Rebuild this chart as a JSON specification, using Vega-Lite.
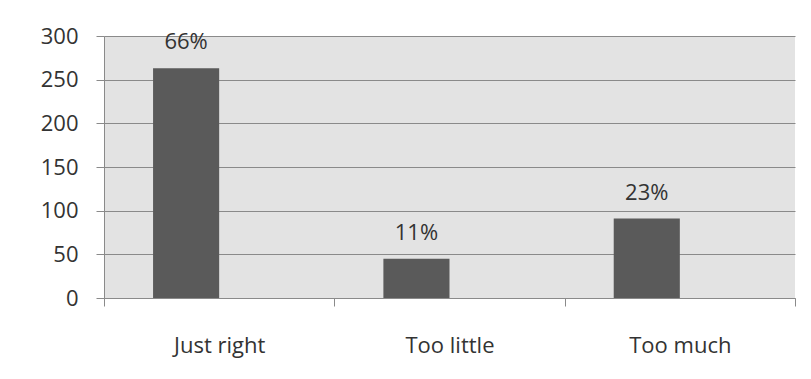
{
  "$schema": "https://vega.github.io/schema/vega-lite/v6.json",
  "width": 691,
  "height": 262,
  "autosize": {"type": "none"},
  "padding": {"left": 104, "top": 36, "right": 16, "bottom": 81},
  "background": "#ffffff",
  "data": {
    "values": [
      {"answer": "Just right", "series": "Responses", "count": 263, "share": 0.66},
      {"answer": "Too little", "series": "Responses", "count": 45, "share": 0.11},
      {"answer": "Too much", "series": "Responses", "count": 91, "share": 0.23}
    ]
  },
  "encoding": {
    "x": {
      "field": "answer",
      "type": "nominal",
      "sort": ["Just right", "Too little", "Too much"],
      "scale": {"paddingInner": 0, "paddingOuter": 0},
      "axis": {
        "title": null,
        "labelAngle": 0,
        "tickBand": "extent",
        "tickSize": 8,
        "labelBaseline": "alphabetic",
        "labelPadding": 46,
        "labelFont": "Open Sans",
        "labelFontSize": 22,
        "labelColor": "#333333",
        "domainColor": "#8a8a8a",
        "tickColor": "#8a8a8a"
      }
    },
    "xOffset": {
      "field": "series",
      "type": "nominal",
      "scale": {"domain": ["Responses", "Other"], "paddingInner": 0, "paddingOuter": 0.742}
    }
  },
  "layer": [
    {
      "mark": {"type": "bar", "color": "#5a5a5a"},
      "encoding": {
        "y": {
          "field": "count",
          "type": "quantitative",
          "scale": {"domain": [0, 300]},
          "axis": {
            "title": null,
            "values": [0, 50, 100, 150, 200, 250, 300],
            "tickSize": 8,
            "labelPadding": 18,
            "labelFont": "Open Sans",
            "labelFontSize": 22,
            "labelColor": "#333333",
            "grid": true,
            "gridColor": "#8a8a8a",
            "domainColor": "#8a8a8a",
            "tickColor": "#8a8a8a"
          }
        }
      }
    },
    {
      "mark": {
        "type": "text",
        "baseline": "alphabetic",
        "dy": -19,
        "font": "Open Sans",
        "fontSize": 22,
        "color": "#333333"
      },
      "encoding": {
        "y": {"field": "count", "type": "quantitative"},
        "text": {"field": "share", "type": "quantitative", "format": ".0%"}
      }
    }
  ],
  "config": {
    "view": {"fill": "#e3e3e3", "stroke": null}
  }
}
